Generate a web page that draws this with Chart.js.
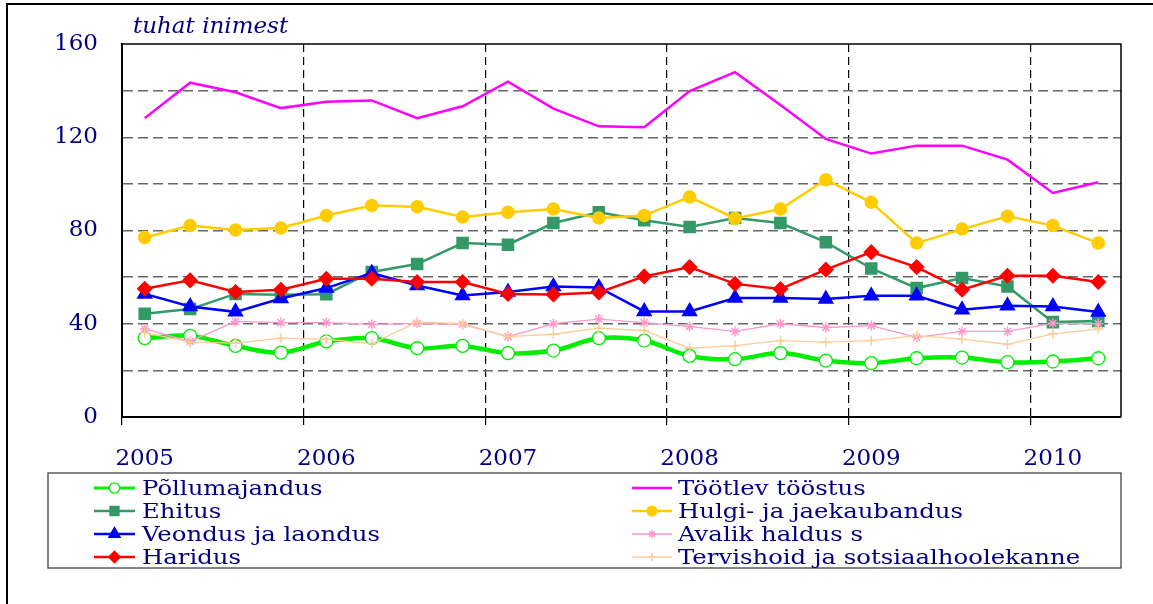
<!DOCTYPE html>
<html>
<head>
<meta charset="utf-8">
<script src="https://cdn.jsdelivr.net/npm/chart.js"></script>
<style>
  html, body { margin: 0; padding: 0; background: #fff; }
  #wrap { position: relative; width: 1153px; height: 604px; }
</style>
</head>
<body>
<div id="wrap"><canvas id="chart"></canvas></div>
<script>
// kvartalid 2005 I ... 2010 II
var quarters = ['2005 I', '2005 II', '2005 III', '2005 IV',
                '2006 I', '2006 II', '2006 III', '2006 IV',
                '2007 I', '2007 II', '2007 III', '2007 IV',
                '2008 I', '2008 II', '2008 III', '2008 IV',
                '2009 I', '2009 II', '2009 III', '2009 IV',
                '2010 I', '2010 II'];
var yTicks = [0, 40, 80, 120, 160];

// tuhat inimest
var pollumajandus = [33.8, 34.8, 30.5, 27.6, 32.4, 33.8, 29.5, 30.5, 27.4, 28.5, 33.8, 32.8, 26.2, 24.8, 27.4, 24.2, 23.1, 25.2, 25.5, 23.5, 23.8, 25.2];
var tootlev = [128.2, 143.4, 139.3, 132.5, 135.2, 135.8, 128.2, 133.3, 143.8, 132.3, 124.7, 124.3, 139.8, 147.9, 133.8, 119.3, 113.0, 116.4, 116.4, 110.4, 96.1, 100.7];
var ehitus = [44.3, 46.3, 52.8, 52.4, 52.7, 62.2, 65.6, 74.6, 73.9, 83.2, 87.8, 84.4, 81.5, 85.4, 83.2, 75.0, 63.7, 55.3, 59.6, 56.0, 40.7, 41.2];
var hulgi = [77.0, 82.1, 80.2, 81.1, 86.4, 90.7, 90.2, 85.8, 87.8, 89.2, 85.4, 86.4, 94.4, 85.2, 89.2, 101.8, 92.1, 74.6, 80.6, 86.1, 82.1, 74.6];
var veondus = [52.8, 47.4, 45.1, 50.8, 55.3, 61.7, 56.4, 52.1, 53.6, 56.0, 55.6, 45.3, 45.3, 51.0, 51.0, 50.6, 52.0, 52.0, 46.0, 47.7, 47.4, 45.0];
var avalik = [37.8, 32.4, 41.0, 40.5, 40.5, 39.7, 40.2, 39.7, 34.5, 40.0, 42.0, 40.5, 38.8, 36.7, 40.0, 38.4, 39.2, 34.2, 36.7, 36.7, 40.2, 40.0];
var haridus = [55.0, 58.6, 53.6, 54.6, 59.3, 59.3, 57.9, 57.9, 52.8, 52.6, 53.4, 60.3, 64.3, 57.1, 54.9, 63.2, 70.7, 64.3, 54.6, 60.6, 60.6, 57.9];
var tervishoid = [36.2, 32.1, 31.7, 33.8, 33.4, 31.4, 40.8, 40.0, 34.5, 35.5, 38.1, 37.1, 29.5, 30.6, 32.8, 32.1, 32.8, 34.9, 33.4, 31.2, 35.7, 37.7];

var NAVY = '#000080';

function series(label, data, color, width, style, radius, fill, extra) {
    var ds = {
        label: label,
        data: data,
        borderColor: color,
        backgroundColor: fill,
        borderWidth: width,
        pointStyle: style,
        pointRadius: radius,
        pointBorderColor: color,
        pointBackgroundColor: fill,
        pointBorderWidth: 1.5,
        tension: 0
    };
    for (var k in extra) ds[k] = extra[k];
    return ds;
}

var datasets = [
    series('Põllumajandus', pollumajandus, '#00ee00', 4.5, 'circle', 6.5, '#ffffff', {tension: 0.35, pointBorderWidth: 1.3}),
    series('Töötlev tööstus', tootlev, '#ff00ff', 2.5, false, 0, '#ff00ff'),
    series('Ehitus', ehitus, '#339966', 2.5, 'rect', 7.8, '#339966'),
    series('Hulgi- ja jaekaubandus', hulgi, '#ffcc00', 2.5, 'circle', 6, '#ffcc00'),
    series('Veondus ja laondus', veondus, '#0000ff', 2.5, 'triangle', 8, '#0000ff'),
    series('Avalik haldus s', avalik, '#ff99cc', 1.3, 'star', 5, '#ff99cc'),
    series('Haridus', haridus, '#ff0000', 2.5, 'rectRot', 7, '#ff0000'),
    series('Tervishoid ja sotsiaalhoolekanne', tervishoid, '#ffcc99', 1.3, 'cross', 5, '#ffcc99')
];
// Exceli järjekord: hilisem seeria on peal
datasets.forEach(function(ds, i) { ds.order = datasets.length - i; });

var decorPlugin = {
    id: 'decor',
    beforeDatasetsDraw: function(chart) {
        var ctx = chart.ctx, a = chart.chartArea;
        ctx.save();
        ctx.strokeStyle = '#000';
        ctx.lineWidth = 1.5;
        ctx.beginPath();
        ctx.moveTo(a.left, a.top);
        ctx.lineTo(a.right, a.top);
        ctx.lineTo(a.right, a.bottom);
        ctx.stroke();
        ctx.restore();
    },
    afterDraw: function(chart) {
        var ctx = chart.ctx;
        ctx.save();
        // raam
        ctx.strokeStyle = '#000';
        ctx.lineWidth = 2;
        ctx.beginPath();
        ctx.moveTo(7, 604);
        ctx.lineTo(7, 4);
        ctx.lineTo(1153, 4);
        ctx.stroke();

        // ühik
        ctx.fillStyle = NAVY;
        ctx.font = 'italic 23px "DejaVu Serif"';
        ctx.textBaseline = 'alphabetic';
        ctx.fillText('tuhat inimest', 133, 33);

        // legend
        ctx.strokeStyle = '#444';
        ctx.lineWidth = 1.3;
        ctx.strokeRect(48, 473, 1121 - 48, 95);
        var cols = [{lx: 94, rx: 135, tx: 142}, {lx: 632, rx: 672, tx: 678}];
        var rows = [488, 511, 534, 557];
        datasets.forEach(function(ds, i) {
            var c = cols[i % 2], y = rows[Math.floor(i / 2)];
            ctx.save();
            ctx.strokeStyle = ds.borderColor;
            ctx.lineWidth = Math.min(ds.borderWidth, 3);
            ctx.beginPath();
            ctx.moveTo(c.lx, y);
            ctx.lineTo(c.rx, y);
            ctx.stroke();
            if (ds.pointStyle) {
                ctx.fillStyle = ds.pointBackgroundColor;
                ctx.strokeStyle = ds.pointBorderColor;
                ctx.lineWidth = ds.pointBorderWidth;
                Chart.helpers.drawPoint(ctx, {
                    pointStyle: ds.pointStyle,
                    radius: ds.pointRadius * 0.8,
                    rotation: 0,
                    borderWidth: ds.pointBorderWidth
                }, (c.lx + c.rx) / 2, y);
            }
            ctx.restore();
            ctx.save();
            ctx.fillStyle = NAVY;
            ctx.font = '21px "DejaVu Serif"';
            ctx.textBaseline = 'alphabetic';
            ctx.translate(c.tx, y + 7);
            ctx.scale(1.16, 1);
            ctx.fillText(ds.label, 0, 0);
            ctx.restore();
        });
        ctx.restore();
    }
};

new Chart(document.getElementById('chart'), {
    type: 'line',
    data: { labels: quarters, datasets: datasets },
    options: {
        responsive: true,
        maintainAspectRatio: false,
        animation: false,
        devicePixelRatio: 1,
        layout: { padding: { left: 0, top: 44, right: 32, bottom: 127 } },
        plugins: {
            legend: { display: false },
            tooltip: { enabled: false },
            title: { display: false }
        },
        scales: {
            x: {
                type: 'category',
                offset: true,
                afterFit: function(scale) { scale.height = 60; },
                grid: {
                    offset: true,
                    drawTicks: true,
                    tickLength: 8,
                    lineWidth: 1.2,
                    color: function(c) {
                        return (c.index % 4 === 0 && c.index > 0) ? '#000' : 'rgba(0,0,0,0)';
                    },
                    tickColor: function(c) {
                        return (c.index % 4 === 0) ? '#000' : 'rgba(0,0,0,0)';
                    }
                },
                border: { display: true, color: '#000', width: 2, dash: [8, 5] },
                ticks: {
                    autoSkip: false,
                    maxRotation: 0,
                    padding: 20,
                    color: NAVY,
                    font: { family: '"DejaVu Serif"', size: 23 },
                    callback: function(v, i) {
                        var q = quarters[i];
                        return / I$/.test(q) ? q.split(' ')[0] : '';
                    }
                }
            },
            y: {
                min: 0,
                max: 160,
                afterFit: function(scale) { scale.width = 122; },
                grid: {
                    drawTicks: false,
                    lineWidth: 1.5,
                    color: function(c) {
                        if (!c.tick) return 'rgba(0,0,0,0)';
                        return (c.tick.value === 0 || c.tick.value === 160) ? 'rgba(0,0,0,0)' : '#666';
                    }
                },
                border: { display: true, color: '#000', width: 2, dash: [10, 5] },
                ticks: {
                    stepSize: 20,
                    padding: 24,
                    color: NAVY,
                    font: { family: '"DejaVu Serif"', size: 23 },
                    callback: function(v) { return yTicks.indexOf(v) >= 0 ? String(v) : ''; }
                }
            }
        }
    },
    plugins: [decorPlugin]
});
</script>
</body>
</html>
